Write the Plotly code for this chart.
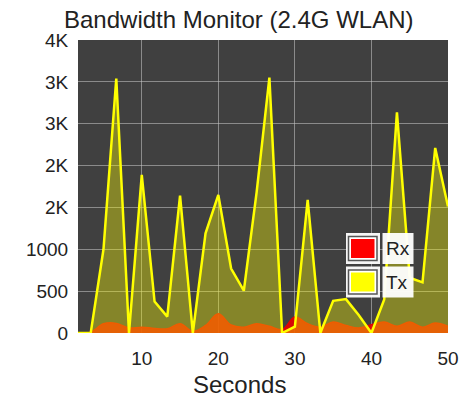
import plotly.graph_objects as go

# Sample times (s) and traffic per sample
seconds = [1.67, 3.33, 5.0, 6.67, 8.33, 10.0, 11.67, 13.33, 15.0, 16.67,
           18.33, 20.0, 21.67, 23.33, 25.0, 26.67, 28.33, 30.0, 31.67, 33.33,
           35.0, 36.67, 38.33, 40.0, 41.67, 43.33, 45.0, 46.67, 48.33, 50.0]
tx = [0, 0, 1000, 3040, 0, 1890, 375, 195, 1640, 0,
      1190, 1650, 770, 505, 1680, 3050, 0, 75, 1590, 0,
      385, 405, 215, 0, 400, 2635, 660, 605, 2210, 1510]
rx = [0, 10, 110, 115, 60, 70, 55, 50, 110, 20,
      90, 230, 95, 70, 110, 80, 40, 190, 110, 70,
      130, 90, 60, 100, 130, 80, 130, 70, 120, 80]

y_ticks = [0, 500, 1000, 1500, 2000, 2500, 3000, 3500]
y_labels = ["0", "500", "1000", "2K", "2K", "3K", "3K", "4K"]
x_ticks = [10, 20, 30, 40, 50]

FONT = "Liberation Sans, Arial, sans-serif"
L, R, T, B = 78, 448, 40, 333  # plot area in pixels


def px(x, y):
    return (x - L) / (R - L), (B - y) / (B - T)


fig = go.Figure()
fig.add_trace(go.Scatter(
    x=seconds, y=rx, name="Rx", mode="lines",
    line=dict(color="rgb(230,0,0)", width=1.5, shape="spline", smoothing=1.0),
    fill="tozeroy", fillcolor="rgba(235,0,0,0.88)",
))
fig.add_trace(go.Scatter(
    x=seconds, y=tx, name="Tx", mode="lines",
    line=dict(color="#ffff00", width=2.5),
    fill="tozeroy", fillcolor="rgba(255,255,0,0.36)",
))

shapes = []
annotations = []
# legend: swatch box + label box per series
for i, (name, col) in enumerate([("Rx", "#ff0000"), ("Tx", "#ffff00")]):
    top = 233 + i * 33.5
    bot = top + 31
    x0, y0 = px(346, bot)
    x1, y1 = px(380, top)
    shapes.append(dict(type="rect", xref="paper", yref="paper", x0=x0, y0=y0, x1=x1, y1=y1,
                       fillcolor="rgba(255,255,255,0.95)", line=dict(width=0)))
    x0, y0 = px(348.5, bot - 3.5)
    x1, y1 = px(377, top + 3.5)
    shapes.append(dict(type="rect", xref="paper", yref="paper", x0=x0, y0=y0, x1=x1, y1=y1,
                       fillcolor="white", line=dict(color="#555555", width=1.5)))
    x0, y0 = px(351, bot - 6)
    x1, y1 = px(374.5, top + 6)
    shapes.append(dict(type="rect", xref="paper", yref="paper", x0=x0, y0=y0, x1=x1, y1=y1,
                       fillcolor=col, line=dict(width=0)))
    x0, y0 = px(382.5, bot)
    x1, y1 = px(413.5, top)
    shapes.append(dict(type="rect", xref="paper", yref="paper", x0=x0, y0=y0, x1=x1, y1=y1,
                       fillcolor="rgba(255,255,255,0.95)", line=dict(width=0)))
    tx_, ty_ = px(384, (top + bot) / 2)
    annotations.append(dict(text=name, xref="paper", yref="paper", x=tx_, y=ty_,
                            xanchor="left", yanchor="middle", showarrow=False,
                            font=dict(family=FONT, size=19, color="#222222")))

tx_, ty_ = px(238, 19.5)
annotations.append(dict(text="Bandwidth Monitor (2.4G WLAN)", xref="paper", yref="paper",
                        x=tx_, y=ty_, xanchor="center", yanchor="middle", showarrow=False,
                        font=dict(family=FONT, size=24, color="#222222")))
tx_, ty_ = px(239, 384)
annotations.append(dict(text="Seconds", xref="paper", yref="paper",
                        x=tx_, y=ty_, xanchor="center", yanchor="middle", showarrow=False,
                        font=dict(family=FONT, size=24, color="#222222")))

fig.update_layout(
    width=461, height=400,
    margin=dict(l=L, r=461 - R, t=T, b=400 - B, pad=0, autoexpand=False),
    paper_bgcolor="white", plot_bgcolor="#404040",
    showlegend=False,
    shapes=shapes, annotations=annotations,
    font=dict(family=FONT, size=19, color="#222222"),
)
fig.update_xaxes(
    range=[seconds[0], 50], tickvals=x_ticks, showgrid=True, automargin=False,
    gridcolor="rgba(200,200,200,0.55)", gridwidth=1, zeroline=False,
    ticks="outside", ticklen=8, tickcolor="rgba(0,0,0,0)",
    tickfont=dict(family=FONT, size=19, color="#222222"), showline=False,
)
fig.update_yaxes(
    range=[0, 3500], tickvals=y_ticks, ticktext=y_labels, showgrid=True, automargin=False,
    gridcolor="rgba(200,200,200,0.55)", gridwidth=1, zeroline=False,
    ticks="outside", ticklen=5, tickcolor="rgba(0,0,0,0)",
    tickfont=dict(family=FONT, size=19, color="#222222"), showline=False,
)

fig.write_html("out.html")
